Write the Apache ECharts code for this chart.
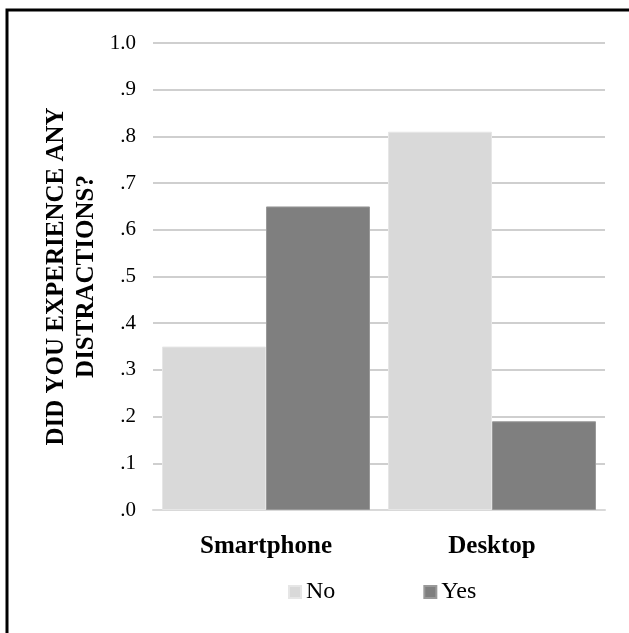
<!DOCTYPE html>
<html>
<head>
<meta charset="utf-8">
<script src="https://cdn.jsdelivr.net/npm/echarts@6/dist/echarts.min.js"></script>
<style>
  html, body { margin: 0; padding: 0; background: #fff; }
  #chart { width: 629px; height: 633px; }
</style>
</head>
<body>
<div id="chart"></div>
<script>
// Share of respondents reporting distractions, by device
const categories = ['Smartphone', 'Desktop'];
const seriesNames = ['No', 'Yes'];
const noValues = [0.35, 0.81];
const yesValues = [0.65, 0.19];
const yTickLabels = ['.0', '.1', '.2', '.3', '.4', '.5', '.6', '.7', '.8', '.9', '1.0'];

const serif = '"Liberation Serif", "Times New Roman", Times, serif';

const chart = echarts.init(document.getElementById('chart'), null, { renderer: 'canvas' });

chart.setOption({
  backgroundColor: '#ffffff',
  animation: false,
  grid: { left: 153, right: 24, top: 43, bottom: 123, containLabel: false },
  graphic: [
    {
      // chart-area frame (left and top edges fall inside the page)
      type: 'polyline',
      shape: { points: [[7, 700], [7, 10], [700, 10]] },
      style: { stroke: '#000000', lineWidth: 3, fill: null }
    }
  ],
  legend: {
    data: seriesNames,
    left: 283,
    top: 575,
    itemWidth: 12,
    itemHeight: 12,
    itemGap: 88,
    icon: 'rect',
    textStyle: { fontFamily: serif, fontSize: 24, color: '#000000' }
  },
  xAxis: {
    type: 'category',
    data: categories,
    axisLine: { show: true, lineStyle: { color: '#d9d9d9', width: 2 } },
    axisTick: { show: false },
    axisLabel: {
      margin: 24,
      fontFamily: serif,
      fontWeight: 'bold',
      fontSize: 25,
      color: '#000000'
    }
  },
  yAxis: {
    type: 'value',
    min: 0,
    max: 1,
    interval: 0.1,
    name: 'DID YOU EXPERIENCE ANY\nDISTRACTIONS?',
    nameLocation: 'middle',
    nameGap: 51,
    nameMoveOverlap: false,
    nameRotate: 90,
    nameTextStyle: {
      fontFamily: serif,
      fontWeight: 'bold',
      fontSize: 25,
      lineHeight: 30,
      color: '#000000'
    },
    axisLine: { show: false },
    axisTick: { show: false },
    splitLine: { show: true, lineStyle: { color: '#bfbfbf', width: 1.5 } },
    axisLabel: {
      margin: 17,
      fontFamily: serif,
      fontSize: 21,
      color: '#000000',
      formatter: function (v) {
        return yTickLabels[Math.round(v * 10)];
      }
    }
  },
  series: [
    {
      name: seriesNames[0],
      type: 'bar',
      data: noValues,
      barWidth: 104,
      barGap: '0%',
      itemStyle: { color: '#d9d9d9', borderColor: '#e6e6e6', borderWidth: 1 }
    },
    {
      name: seriesNames[1],
      type: 'bar',
      data: yesValues,
      barWidth: 104,
      barGap: '0%',
      itemStyle: { color: '#7f7f7f', borderColor: '#999999', borderWidth: 1 }
    }
  ]
});
</script>
</body>
</html>
